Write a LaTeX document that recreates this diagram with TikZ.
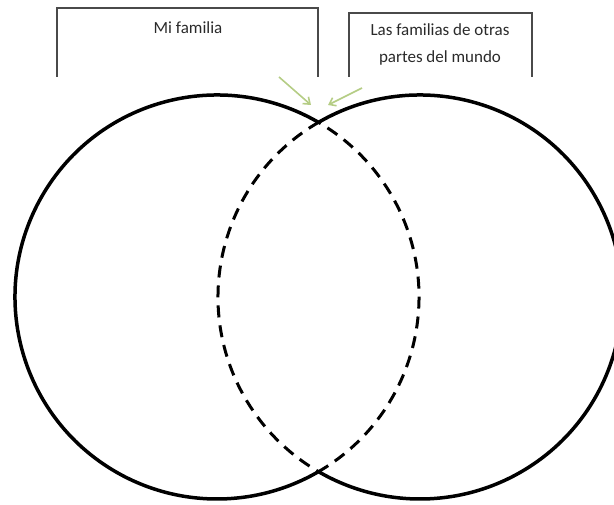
\documentclass[tikz,border=0pt]{standalone}
\usepackage{fontspec}
\setmainfont{Carlito}
\usetikzlibrary{arrows.meta,calc}
\definecolor{boxgray}{HTML}{4A4A4A}
\definecolor{txtgray}{HTML}{2A2A2A}
\definecolor{arrgreen}{HTML}{B5CD85}
\begin{document}
\begin{tikzpicture}[x=1pt,y=-1pt,
  solidarc/.style={line width=3.5pt,black},
  dasharc/.style={line width=3pt,black,dash pattern=on 12pt off 8pt},
  boxline/.style={line width=1.5pt,boxgray},
  lbl/.style={text=txtgray,font=\fontsize{17}{27}\selectfont,align=center,inner sep=0pt},
  greenarrow/.style={line width=1.6pt,arrgreen,-{Straight Barb[length=6pt,width=9pt]}}]
\useasboundingbox (0,0) rectangle (614,505);
% circle centres
\coordinate (cl) at (217,297);
\coordinate (cr) at (420,297);
% left circle: solid outer arc, dashed inner arc
\draw[solidarc] (cl) ++(60:202pt) arc[start angle=60,end angle=300,radius=202pt];
\draw[dasharc] (cl) ++(-60:202pt) arc[start angle=-60,end angle=60,radius=202pt];
% right circle
\draw[solidarc] (cr) ++(120:202pt) arc[start angle=120,end angle=-120,radius=202pt];
\draw[dasharc] (cr) ++(120:202pt) arc[start angle=120,end angle=240,radius=202pt];
% label boxes (open at the bottom)
\draw[boxline] (57,77) -- (57,8) -- (318,8) -- (318,77);
\draw[boxline] (349,77) -- (349,13) -- (532,13) -- (532,77);
\node[lbl] (mi) at (188,28) {Mi familia};
\node[lbl] (otras) at (440,44) {Las familias de otras\\partes del mundo};
% green arrows
\coordinate (a1s) at (279,77);
\coordinate (a1e) at (311,105);
\coordinate (a2s) at (362,88);
\coordinate (a2e) at (328,105);
\draw[greenarrow] (a1s) -- (a1e);
\draw[greenarrow] (a2s) -- (a2e);
\end{tikzpicture}
\end{document}
